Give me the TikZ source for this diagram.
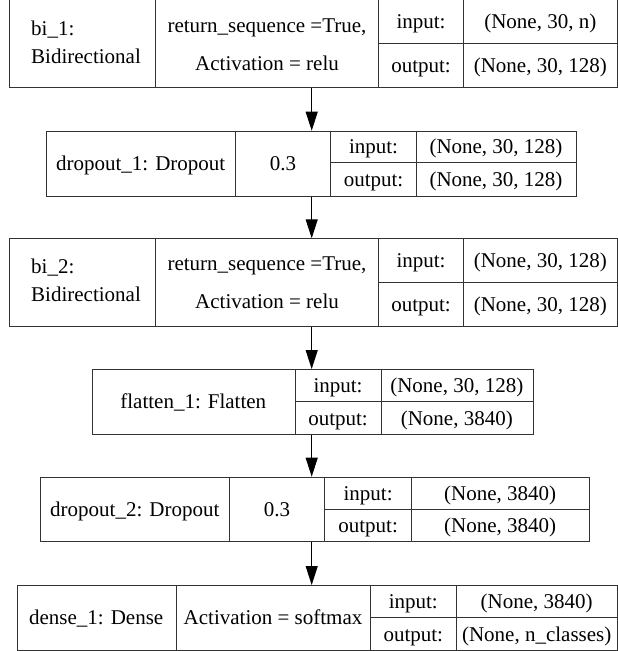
\documentclass[tikz,border=0pt]{standalone}
\usepackage{fontspec}
\setmainfont{Liberation Serif}
\usetikzlibrary{arrows.meta}
\tikzset{
  txt/.style={inner sep=0pt, text height=14pt, text depth=0pt, font=\fontsize{21}{27}\selectfont},
  twoline/.style={inner sep=0pt, align=left, font=\fontsize{21}{28}\selectfont},
  layerbox/.style={draw=black!80, line width=0.9pt, inner sep=0pt, anchor=north west},
  cellrule/.style={draw=black!80, line width=0.9pt},
  flow/.style={draw=black, line width=1pt, -{Triangle[length=19pt,width=12pt]}},
}
\begin{document}
\begin{tikzpicture}[x=1pt, y=-1pt]
\useasboundingbox (0,0) rectangle (618,651);
\coordinate (ax) at (311.7,0);

% ---- bi_1: Bidirectional
\node[layerbox, minimum width=607.4pt, minimum height=88.3pt] (b1) at (9.4,-1) {};
\draw[cellrule] (155.9,-1) -- (155.9,87.3) (378,-1) -- (378,87.3) (463.8,-1) -- (463.8,87.3)
                (378,43.3) -- (616.8,43.3);
\node[twoline] (b1name) at (86,42) {bi\_1:\\Bidirectional};
\node[txt] (b1a) at (267,25) {return\_sequence =True,};
\node[txt] (b1b) at (267,63) {Activation = relu};
\node[txt] (b1in) at (421,21.7) {input:};
\node[txt] (b1out) at (421,65.3) {output:};
\node[txt] (b1iv) at (540.3,21.7) {(None, 30, n)};
\node[txt] (b1ov) at (540.3,65.3) {(None, 30, 128)};

% ---- dropout_1: Dropout
\node[layerbox, minimum width=529.6pt, minimum height=65pt] (b2) at (46,130.7) {};
\draw[cellrule] (235.4,130.7) -- (235.4,195.7) (330.5,130.7) -- (330.5,195.7) (416.5,130.7) -- (416.5,195.7)
                (330.5,162.7) -- (575.6,162.7);
\node[txt] (b2name) at (140.7,163.2) {dropout\_1: Dropout};
\node[txt] (b2rate) at (283,163.2) {0.3};
\node[txt] (b2in) at (373.5,146.7) {input:};
\node[txt] (b2out) at (373.5,179.2) {output:};
\node[txt] (b2iv) at (496,146.7) {(None, 30, 128)};
\node[txt] (b2ov) at (496,179.2) {(None, 30, 128)};

% ---- bi_2: Bidirectional
\node[layerbox, minimum width=607.4pt, minimum height=87.7pt] (b3) at (9.4,238.3) {};
\draw[cellrule] (155.9,238.3) -- (155.9,326) (378,238.3) -- (378,326) (463.8,238.3) -- (463.8,326)
                (378,282) -- (616.8,282);
\node[twoline] (b3name) at (86,280.5) {bi\_2:\\Bidirectional};
\node[txt] (b3a) at (267,263.5) {return\_sequence =True,};
\node[txt] (b3b) at (267,301.5) {Activation = relu};
\node[txt] (b3in) at (421,260.2) {input:};
\node[txt] (b3out) at (421,304) {output:};
\node[txt] (b3iv) at (540.3,260.2) {(None, 30, 128)};
\node[txt] (b3ov) at (540.3,304) {(None, 30, 128)};

% ---- flatten_1: Flatten
\node[layerbox, minimum width=441pt, minimum height=65.3pt] (b4) at (91.7,369) {};
\draw[cellrule] (295,369) -- (295,434.3) (381,369) -- (381,434.3)
                (295,401.7) -- (532.7,401.7);
\node[txt] (b4name) at (193.3,401.7) {flatten\_1: Flatten};
\node[txt] (b4in) at (338,385.3) {input:};
\node[txt] (b4out) at (338,418) {output:};
\node[txt] (b4iv) at (456.8,385.3) {(None, 30, 128)};
\node[txt] (b4ov) at (456.8,418) {(None, 3840)};

% ---- dropout_2: Dropout
\node[layerbox, minimum width=548.8pt, minimum height=64.6pt] (b5) at (40.2,476.7) {};
\draw[cellrule] (229.5,476.7) -- (229.5,541.3) (324.8,476.7) -- (324.8,541.3) (411.4,476.7) -- (411.4,541.3)
                (324.8,509.3) -- (589,509.3);
\node[txt] (b5name) at (134.8,509) {dropout\_2: Dropout};
\node[txt] (b5rate) at (277.1,509) {0.3};
\node[txt] (b5in) at (368.1,493) {input:};
\node[txt] (b5out) at (368.1,525.3) {output:};
\node[txt] (b5iv) at (500.2,493) {(None, 3840)};
\node[txt] (b5ov) at (500.2,525.3) {(None, 3840)};

% ---- dense_1: Dense
\node[layerbox, minimum width=600.3pt, minimum height=65.3pt] (b6) at (16.5,585) {};
\draw[cellrule] (176,585) -- (176,650.3) (370,585) -- (370,650.3) (456.7,585) -- (456.7,650.3)
                (370,617.7) -- (616.8,617.7);
\node[txt] (b6name) at (96.2,617.7) {dense\_1: Dense};
\node[txt] (b6act) at (273,617.7) {Activation = softmax};
\node[txt] (b6in) at (413.3,601.3) {input:};
\node[txt] (b6out) at (413.3,634) {output:};
\node[txt] (b6iv) at (536.7,601.3) {(None, 3840)};
\node[txt] (b6ov) at (536.7,634) {(None, n\_classes)};

% ---- connectors
\draw[flow] (b1.south -| ax) -- (b2.north -| ax);
\draw[flow] (b2.south -| ax) -- (b3.north -| ax);
\draw[flow] (b3.south -| ax) -- (b4.north -| ax);
\draw[flow] (b4.south -| ax) -- (b5.north -| ax);
\draw[flow] (b5.south -| ax) -- (b6.north -| ax);
\end{tikzpicture}
\end{document}
